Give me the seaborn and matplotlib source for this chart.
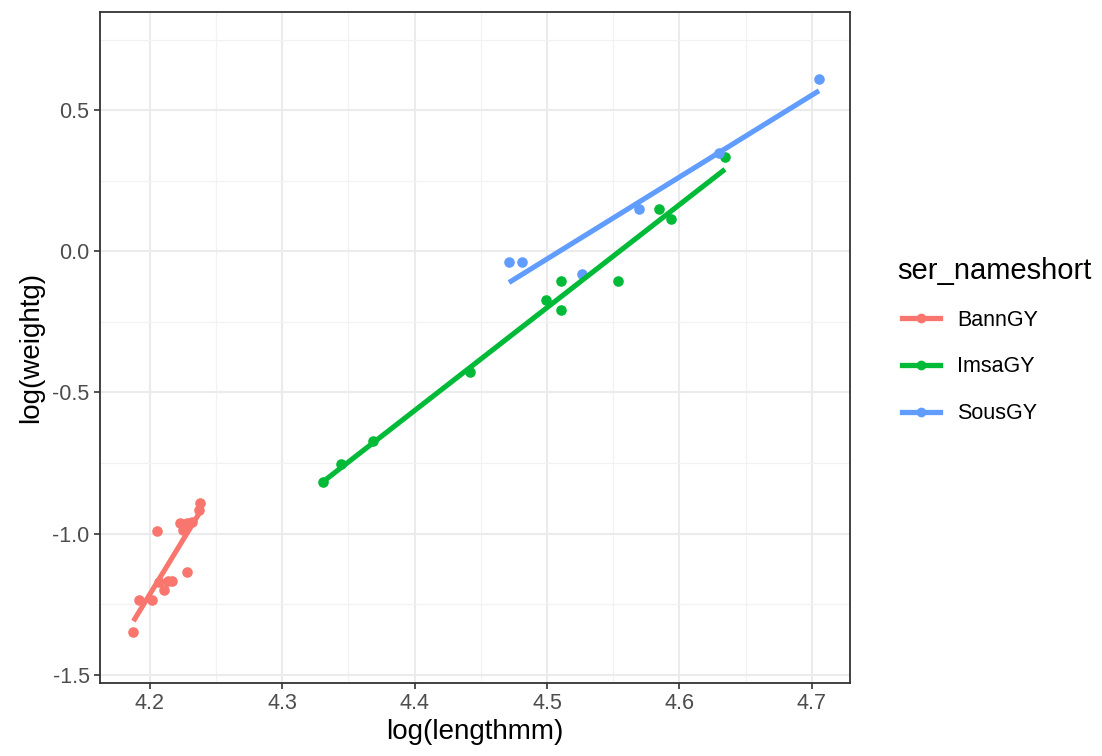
import pandas as pd
import seaborn as sns
import matplotlib.pyplot as plt
from matplotlib.lines import Line2D
from matplotlib.ticker import MultipleLocator

# values (log scale already)
groups = ["BannGY", "ImsaGY", "SousGY"]
colors = ["#F8766D", "#00BA38", "#619CFF"]

bann_len = [4.1878, 4.1923, 4.2017, 4.2059, 4.2074, 4.2109, 4.2142, 4.2168,
            4.2230, 4.2255, 4.2281, 4.2281, 4.2318, 4.2376, 4.2381]
bann_wt = [-1.348, -1.236, -1.236, -0.991, -1.171, -1.200, -1.167, -1.167,
           -0.964, -0.988, -0.964, -1.135, -0.958, -0.917, -0.893]

imsa_len = [4.3312, 4.3443, 4.3689, 4.4419, 4.4992, 4.5106, 4.5106, 4.5534,
            4.5845, 4.5936, 4.6343]
imsa_wt = [-0.818, -0.754, -0.672, -0.426, -0.172, -0.104, -0.207, -0.104,
           0.151, 0.114, 0.336]

sous_len = [4.4713, 4.4809, 4.5262, 4.5697, 4.6300, 4.7053]
sous_wt = [-0.038, -0.038, -0.080, 0.151, 0.348, 0.611]

df = pd.concat([
    pd.DataFrame({"ser_nameshort": "BannGY", "loglen": bann_len, "logwt": bann_wt}),
    pd.DataFrame({"ser_nameshort": "ImsaGY", "loglen": imsa_len, "logwt": imsa_wt}),
    pd.DataFrame({"ser_nameshort": "SousGY", "loglen": sous_len, "logwt": sous_wt}),
])

plt.rcParams["font.family"] = ["Liberation Sans", "DejaVu Sans"]
plt.rcParams["axes.unicode_minus"] = False

fig = plt.figure(figsize=(11.02, 7.56), dpi=100)
ax = fig.add_axes([100 / 1102, 1 - 683 / 756, 750 / 1102, 671 / 756])

# points + linear fit per group
for name, col in zip(groups, colors):
    sub = df[df["ser_nameshort"] == name]
    sns.regplot(data=sub, x="loglen", y="logwt", ax=ax, ci=None, color=col,
                scatter_kws=dict(s=58, linewidths=0, alpha=1),
                line_kws=dict(lw=3.7, solid_capstyle="butt"))

ax.set_xlim(4.1626, 4.7287)
ax.set_ylim(-1.53, 0.849)

# theme_bw look
ax.set_facecolor("white")
ax.xaxis.set_major_locator(MultipleLocator(0.1))
ax.xaxis.set_minor_locator(MultipleLocator(0.05))
ax.yaxis.set_major_locator(MultipleLocator(0.5))
ax.yaxis.set_minor_locator(MultipleLocator(0.25))
ax.grid(which="major", color="#EBEBEB", lw=1.5)
ax.grid(which="minor", color="#F2F2F2", lw=0.9)
ax.set_axisbelow(True)
for sp in ax.spines.values():
    sp.set_color("#333333")
    sp.set_linewidth(1.3)
ax.tick_params(which="major", length=4.5, width=1.2, color="#333333",
               labelcolor="#4D4D4D", labelsize=15.5, pad=3)
ax.tick_params(which="minor", length=0)

ax.set_xlabel("log(lengthmm)", fontsize=20, color="black", labelpad=3)
ax.set_ylabel("log(weightg)", fontsize=20, color="black", labelpad=6)

# legend
fig.text(897 / 1102, 1 - 271 / 756, "ser_nameshort", fontsize=21,
         va="center", ha="left")
handles = [Line2D([], [], color=c, lw=3.8, marker="o", markersize=6)
           for c in colors]
fig.legend(handles, groups, loc="center left",
           bbox_to_anchor=(902 / 1102, 1 - 367 / 756), frameon=False,
           fontsize=15.5, handlelength=1.75, handletextpad=0.8,
           labelspacing=1.2, borderpad=0, borderaxespad=0)

fig.savefig("out.png", dpi=100)
